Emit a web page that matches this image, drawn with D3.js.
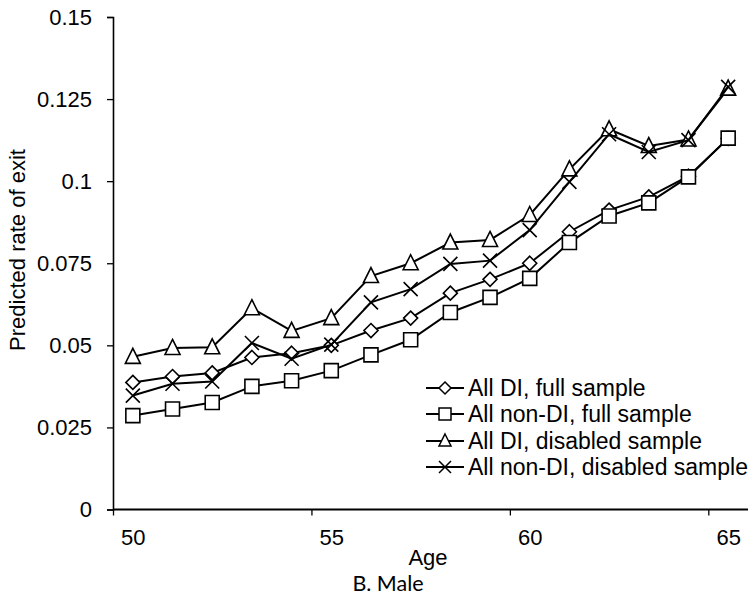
<!DOCTYPE html>
<html>
<head>
<meta charset="utf-8">
<script src="https://cdn.jsdelivr.net/npm/d3@7/dist/d3.min.js"></script>
<style>
  html, body { margin: 0; padding: 0; background: #fff; }
  svg { display: block; }
  text { font-family: "Liberation Sans", Arial, sans-serif; fill: #000; }
</style>
</head>
<body>
<svg id="chart" width="750" height="597"></svg>
<script>
// ---- data ----
const ages = [50, 51, 52, 53, 54, 55, 56, 57, 58, 59, 60, 61, 62, 63, 64, 65];
const allDIFull       = [0.0387, 0.0405, 0.0416, 0.0463, 0.0476, 0.0500, 0.0545, 0.0583, 0.0659, 0.0701, 0.0750, 0.0846, 0.0912, 0.0952, 0.1015, 0.1130];
const allNonDIFull    = [0.0286, 0.0306, 0.0326, 0.0375, 0.0392, 0.0423, 0.0471, 0.0517, 0.0600, 0.0646, 0.0704, 0.0813, 0.0894, 0.0934, 0.1013, 0.1131];
const allDIDisabled   = [0.0465, 0.0492, 0.0494, 0.0613, 0.0544, 0.0583, 0.0711, 0.0750, 0.0813, 0.0821, 0.0897, 0.1036, 0.1158, 0.1107, 0.1127, 0.1282];
const allNonDIDisabled= [0.0347, 0.0383, 0.0390, 0.0507, 0.0459, 0.0502, 0.0631, 0.0671, 0.0748, 0.0758, 0.0851, 0.0998, 0.1143, 0.1089, 0.1125, 0.1287];
const seriesNames = ["All DI, full sample", "All non-DI, full sample", "All DI, disabled sample", "All non-DI, disabled sample"];
const seriesMarkers = ["diamond", "square", "triangle", "cross"];
const xTickLabels = [50, 55, 60, 65];
const yTickValues = [0, 0.025, 0.05, 0.075, 0.1, 0.125, 0.15];
const yTickLabels = ["0", "0.025", "0.05", "0.075", "0.1", "0.125", "0.15"];
const xTitle = "Age";
const yTitle = "Predicted rate of exit";
const caption = "B. Male";

const seriesValues = [allDIFull, allNonDIFull, allDIDisabled, allNonDIDisabled];

// ---- layout ----
const svg = d3.select("#chart");
const plotLeft = 113, plotRight = 748, plotTop = 17, plotBottom = 509.5;

const x = d3.scaleLinear().domain([ages[0] - 0.5, ages[ages.length - 1] + 0.5]).range([plotLeft, plotRight]);
const y = d3.scaleLinear().domain([0, 0.15]).range([plotBottom, plotTop]);

// y axis
const yAxis = svg.append("g").attr("transform", `translate(${plotLeft},0)`)
  .call(d3.axisLeft(y).tickValues(yTickValues).tickSize(6).tickPadding(15)
    .tickFormat((d, i) => yTickLabels[i]));
yAxis.select(".domain").attr("stroke", "#000").attr("stroke-width", 1.6);
yAxis.selectAll(".tick line").attr("stroke", "#000").attr("stroke-width", 1.3);
yAxis.selectAll(".tick text").attr("font-size", 22).attr("font-family", '"Liberation Sans", Arial, sans-serif').attr("fill", "#000");

// x axis: tick marks between categories
const xTickMarks = [49.5, 54.5, 59.5, 64.5];
const xAxis = svg.append("g").attr("transform", `translate(0,${plotBottom})`)
  .call(d3.axisBottom(x).tickValues(xTickMarks).tickSize(6).tickFormat(""));
xAxis.select(".domain").attr("stroke", "#000").attr("stroke-width", 1.8).attr("d", `M${plotLeft},0H${plotRight}`);
xAxis.selectAll(".tick line").attr("stroke", "#000").attr("stroke-width", 1.3);

// x labels at category centres
const xLab = svg.append("g").attr("transform", `translate(0,${plotBottom})`)
  .call(d3.axisBottom(x).tickValues(xTickLabels).tickSize(0).tickPadding(0).tickFormat(d3.format("d")));
xLab.select(".domain").remove();
xLab.selectAll(".tick text").attr("font-size", 22).attr("font-family", '"Liberation Sans", Arial, sans-serif')
  .attr("fill", "#000").attr("dy", null).attr("y", 35.5);

// titles
svg.append("text").attr("x", 428).attr("y", 565).attr("text-anchor", "middle").attr("font-size", 22).text(xTitle);
svg.append("text").attr("transform", "translate(25,250) rotate(-90)").attr("text-anchor", "middle").attr("font-size", 22).text(yTitle);
svg.append("text").attr("x", 388).attr("y", 591).attr("text-anchor", "middle").attr("font-size", 21.5)
  .style("font-family", "Lato, 'Open Sans', sans-serif").text(caption);

// ---- markers ----
function markerPath(type, s) {
  const h = s / 2;
  switch (type) {
    case "diamond": return `M0,${-h}L${h},0L0,${h}L${-h},0Z`;
    case "square": return `M${-h},${-h}H${h}V${h}H${-h}Z`;
    case "triangle": return `M0,${-h - 1}L${h},${h - 1}L${-h},${h - 1}Z`;
    case "cross": return `M${-h},${-h}L${h},${h}M${h},${-h}L${-h},${h}`;
  }
}
const markerSize = { diamond: 14, square: 14, triangle: 15, cross: 14 };

const line = d3.line().x((d, i) => x(ages[i])).y(d => y(d));

seriesValues.forEach((vals, si) => {
  const g = svg.append("g");
  g.append("path").attr("d", line(vals)).attr("fill", "none").attr("stroke", "#000").attr("stroke-width", 2);
  const type = seriesMarkers[si];
  g.selectAll("path.m").data(vals).join("path").attr("class", "m")
    .attr("transform", (d, i) => `translate(${x(ages[i])},${y(d)})`)
    .attr("d", markerPath(type, markerSize[type]))
    .attr("fill", type === "cross" ? "none" : "#fff")
    .attr("stroke", "#000").attr("stroke-width", 1.6);
});

// ---- legend ----
const legend = svg.append("g");
const legendY = [388, 414, 441, 467];
seriesNames.forEach((name, i) => {
  const g = legend.append("g").attr("transform", `translate(0,${legendY[i]})`);
  g.append("line").attr("x1", 426).attr("x2", 464).attr("y1", 0).attr("y2", 0).attr("stroke", "#000").attr("stroke-width", 1.8);
  const type = seriesMarkers[i];
  g.append("path").attr("transform", "translate(445,0)").attr("d", markerPath(type, 12))
    .attr("fill", type === "cross" ? "none" : "#fff").attr("stroke", "#000").attr("stroke-width", 1.5);
  g.append("text").attr("x", 468).attr("y", 8).attr("font-size", 23).text(name);
});
</script>
</body>
</html>
